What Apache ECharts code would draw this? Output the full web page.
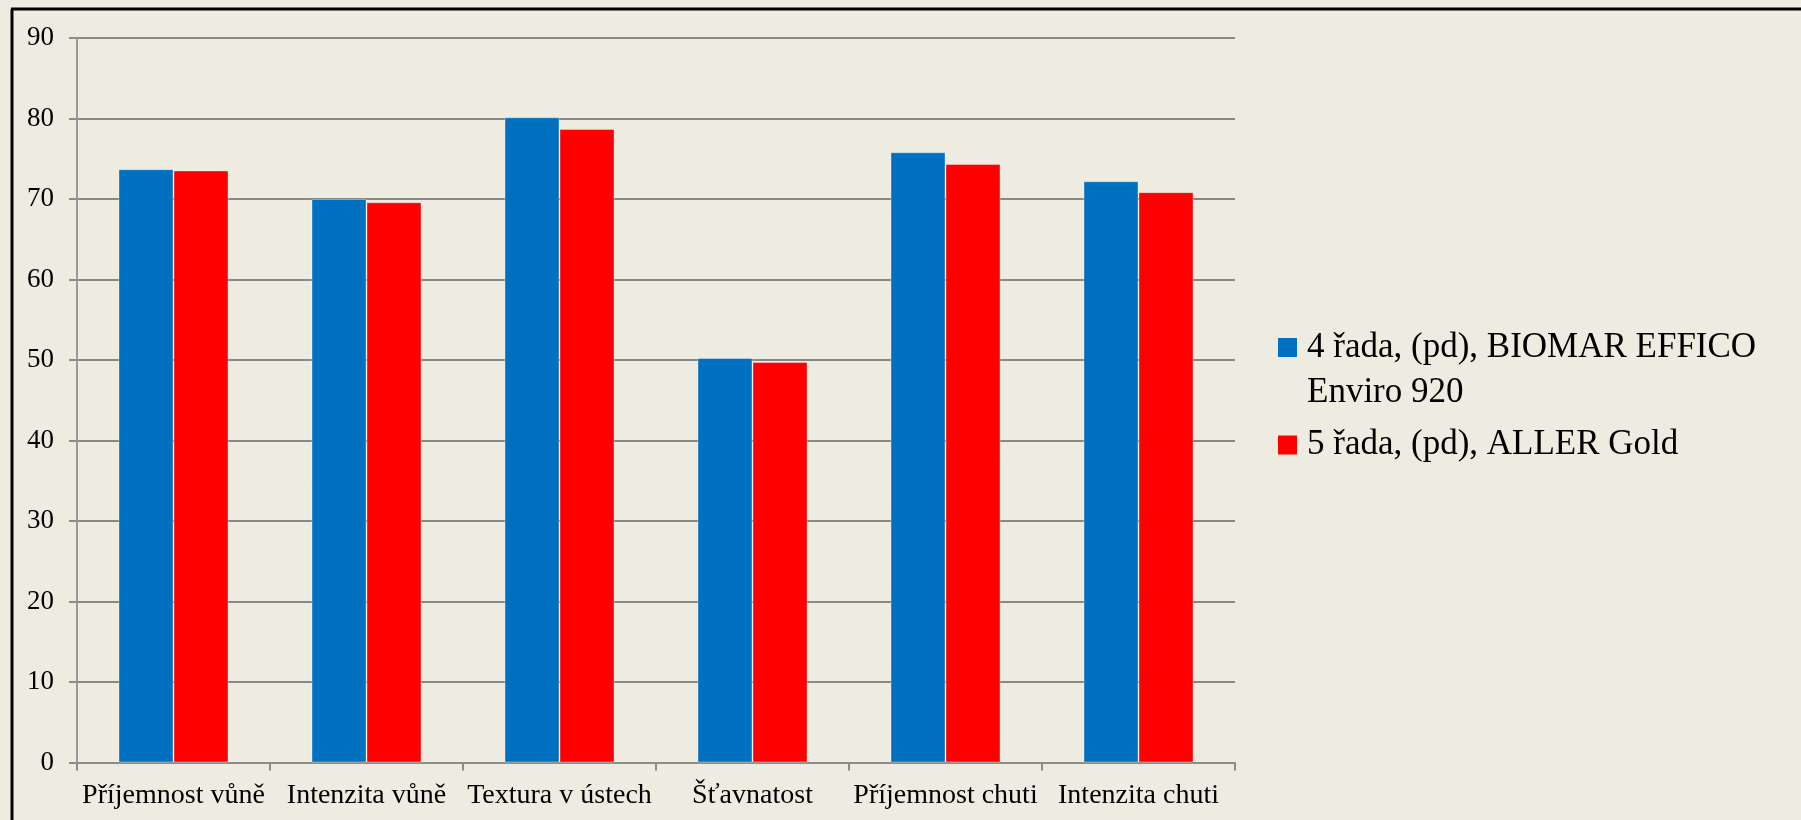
<!DOCTYPE html>
<html>
<head>
<meta charset="utf-8">
<script src="https://cdn.jsdelivr.net/npm/echarts@6/dist/echarts.min.js"></script>
<style>
  html, body { margin: 0; padding: 0; background: #EEEBE0; }
  #chart { width: 1801px; height: 820px; }
</style>
</head>
<body>
<div id="chart"></div>
<script>
// kategorie a hodnoty
var categories = ['Příjemnost vůně', 'Intenzita vůně', 'Textura v ústech', 'Šťavnatost', 'Příjemnost chuti', 'Intenzita chuti'];
var seriesNames = ['4 řada, (pd), BIOMAR EFFICO\nEnviro 920', '5 řada, (pd), ALLER Gold'];
var biomarValues = [73.7, 70.0, 80.15, 50.25, 75.8, 72.2];
var allerValues = [73.55, 69.6, 78.7, 49.75, 74.35, 70.85];
var yTicks = [0, 10, 20, 30, 40, 50, 60, 70, 80, 90];

var serif = '"Liberation Serif", "DejaVu Serif", serif';
var lineH = 45;

// čtvereček legendy 19x19, zbytek ikony je prázdný (posune text a zarovná na první řádek)
var iconTwoLines = 'path://M0,0L1,0L1,1L0,1Z M1.263,3.368';
var iconOneLine = 'path://M0,0L1,0L1,1L0,1Z M1.263,1';

function legendText() {
    return {
        fontFamily: serif,
        fontSize: 35,
        color: '#000',
        lineHeight: lineH
    };
}

var myChart = echarts.init(document.getElementById('chart'));
var option = {
    backgroundColor: '#EEEBE0',
    animation: false,
    textStyle: { fontFamily: serif },
    grid: {
        left: 77,
        right: 566,
        top: 38,
        bottom: 57.5
    },
    legend: [
        {
            data: [{ name: seriesNames[0], icon: iconTwoLines }],
            orient: 'vertical',
            left: 1278,
            top: 325,
            padding: 0,
            itemWidth: 24,
            itemHeight: 64,
            itemStyle: { borderWidth: 0 },
            textStyle: legendText()
        },
        {
            data: [{ name: seriesNames[1], icon: iconOneLine }],
            orient: 'vertical',
            left: 1278,
            top: 422.5,
            padding: 0,
            itemWidth: 24,
            itemHeight: 19,
            itemStyle: { borderWidth: 0 },
            textStyle: legendText()
        }
    ],
    xAxis: {
        type: 'category',
        data: categories,
        axisLine: { show: true, lineStyle: { color: '#8c8c8c', width: 2 } },
        axisTick: { show: true, interval: 0, alignWithLabel: false, length: 8, lineStyle: { color: '#8c8c8c', width: 2 } },
        axisLabel: {
            interval: 0,
            margin: 19,
            fontFamily: serif,
            fontSize: 28,
            color: '#000'
        },
        splitLine: { show: false }
    },
    yAxis: {
        type: 'value',
        min: yTicks[0],
        max: yTicks[yTicks.length - 1],
        interval: 10,
        axisLine: { show: true, lineStyle: { color: '#999', width: 2 } },
        axisTick: { show: true, length: 8, lineStyle: { color: '#8c8c8c', width: 2 } },
        axisLabel: {
            margin: 23,
            fontFamily: serif,
            fontSize: 27,
            color: '#000'
        },
        splitLine: { show: true, lineStyle: { color: '#888', width: 2 } }
    },
    series: [
        {
            name: seriesNames[0],
            type: 'bar',
            barWidth: 55,
            barGap: '0%',
            data: biomarValues,
            itemStyle: { color: '#0070C0', borderColor: 'rgba(255,255,255,0.35)', borderWidth: 1 }
        },
        {
            name: seriesNames[1],
            type: 'bar',
            barWidth: 55,
            barGap: '0%',
            data: allerValues,
            itemStyle: { color: '#FF0000', borderColor: 'rgba(255,255,255,0.35)', borderWidth: 1 }
        }
    ],
    graphic: [
        // rámeček vlevo a nahoře
        { type: 'line', shape: { x1: 12, y1: 9, x2: 12, y2: 820 }, style: { stroke: '#000', lineWidth: 3 } },
        { type: 'line', shape: { x1: 11, y1: 9, x2: 1801, y2: 9 }, style: { stroke: '#000', lineWidth: 3 } }
    ]
};
myChart.setOption(option);
</script>
</body>
</html>
